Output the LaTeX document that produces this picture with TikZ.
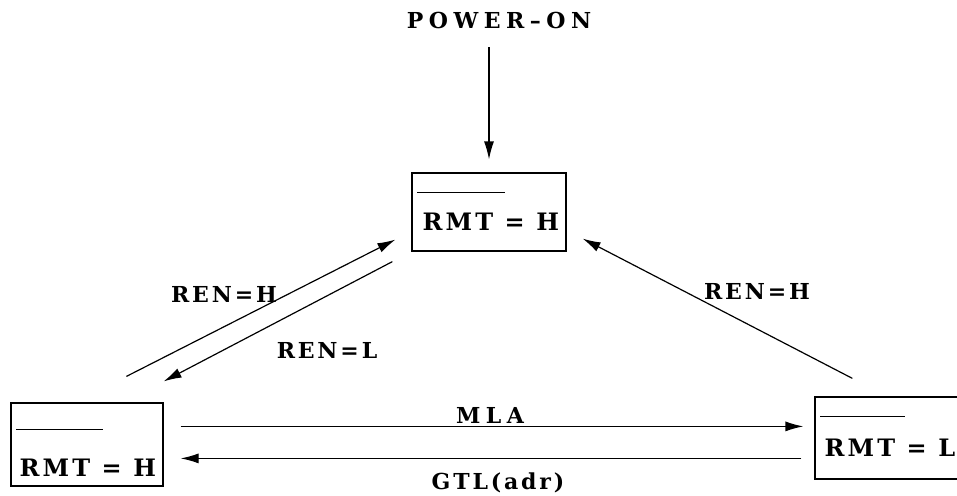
\documentclass[tikz,border=0pt]{standalone}
\usepackage{fontspec}
\usepackage{tikz}
\usetikzlibrary{arrows.meta,positioning}
\newfontfamily\lblfont[LetterSpace=13]{DejaVu Serif}
\newfontfamily\widefont[LetterSpace=25]{DejaVu Serif}
\newfontfamily\rmtfont[LetterSpace=13]{DejaVu Serif}

\begin{document}
\begin{tikzpicture}[x=1pt, y=-1pt,
  state/.style={draw, line width=1.2pt, minimum width=154pt, minimum height=80pt, inner sep=0pt},
  lbl/.style={anchor=base, inner sep=0pt, font=\lblfont\bfseries\fontsize{22}{22}\selectfont},
  wlbl/.style={lbl, font=\widefont\bfseries\fontsize{22}{22}\selectfont},
  rmt/.style={anchor=base west, inner sep=0pt, font=\rmtfont\bfseries\fontsize{24}{24}\selectfont},
  arr/.style={line width=1.2pt, -{Latex[length=18pt, width=10pt]}},
]
  \useasboundingbox (0,0) rectangle (957,495);

  % states
  \node[state, minimum height=78pt] (top) at (489,212) {};
  \node[state, minimum width=152pt, minimum height=83pt] (left) at (87,444.5) {};
  \node[state, minimum width=152pt, minimum height=82pt] (right) at (891,438) {};

  \node[rmt] (toptxt) at ([xshift=11pt, yshift=-58pt]top.north west) {RMT = H};
  \draw[line width=1.2pt] ([xshift=6pt, yshift=-20pt]top.north west) -- ++(88,0);
  \node[rmt] (lefttxt) at ([xshift=9pt, yshift=-74pt]left.north west) {RMT = H};
  \draw[line width=1.2pt] ([xshift=6pt, yshift=-27pt]left.north west) -- ++(87,0);
  \node[rmt] (righttxt) at ([xshift=10pt, yshift=-60pt]right.north west) {RMT = L};
  \draw[line width=1.2pt] ([xshift=6pt, yshift=-20pt]right.north west) -- ++(85,0);

  % power on
  \node[wlbl] (pwr) at (499,29) {POWER\textendash ON};
  \draw[arr] ([yshift=125pt]top.north) -- ([yshift=13pt]top.north);

  % transitions
  \draw[arr] ([xshift=116pt, yshift=26pt]left.north west) -- ([xshift=-16pt, yshift=12pt]top.south west);
  \draw[arr] ([xshift=-19pt, yshift=-10pt]top.south west) -- ([yshift=21pt]left.north east);
  \draw[arr] ([xshift=38pt, yshift=18pt]right.north west) -- ([xshift=16pt, yshift=13pt]top.south east);
  \draw[arr] ([xshift=17pt, yshift=-24pt]left.north east) -- ([xshift=-11pt, yshift=-30pt]right.north west);
  \draw[arr] ([xshift=-13pt, yshift=-62pt]right.north west) -- ([xshift=17pt, yshift=-56pt]left.north east);

  \node[lbl] (renh) at (224,302) {REN=H};
  \node[lbl] (renl) at (327,358) {REN=L};
  \node[lbl] (renh2) at (757,299) {REN=H};
  \node[wlbl] (mla) at (490,423) {MLA};
  \node[lbl] (gtl) at (498,489) {GTL(adr)};
\end{tikzpicture}
\end{document}
